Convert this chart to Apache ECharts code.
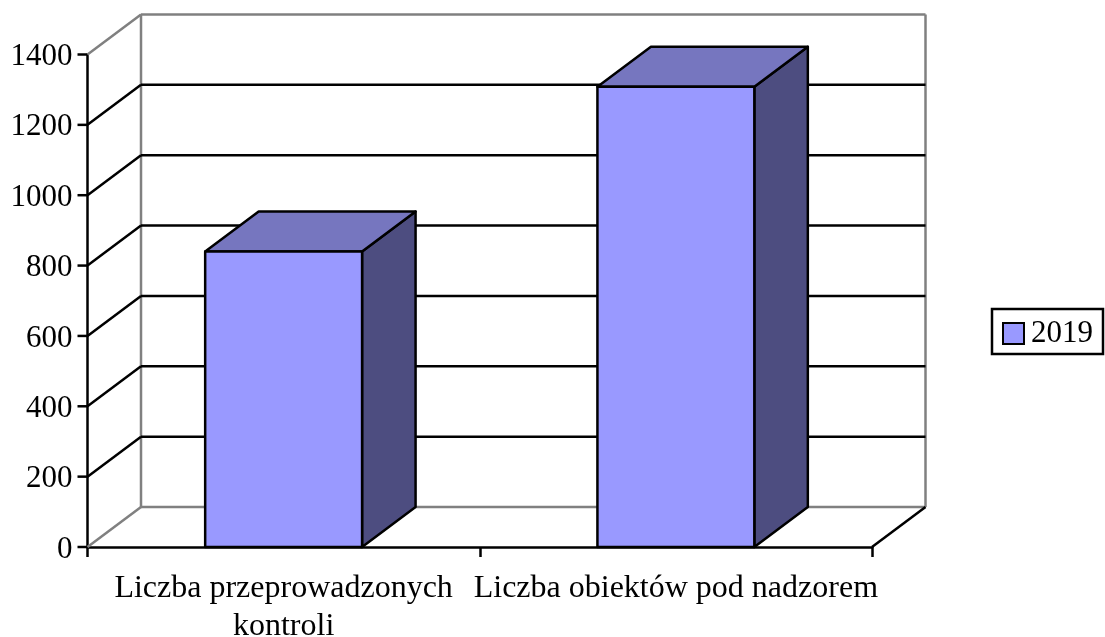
<!DOCTYPE html>
<html>
<head>
<meta charset="utf-8">
<title>Kontrole 2019</title>
<script src="https://cdn.jsdelivr.net/npm/echarts@6/dist/echarts.min.js"></script>
<style>
html, body { margin: 0; padding: 0; background: #fff; }
#main { width: 1105px; height: 637px; }
</style>
</head>
<body>
<div id="main"></div>
<script>
var categories = ['Liczba przeprowadzonych\nkontroli', 'Liczba obiektów pod nadzorem'];
var values2019 = [840, 1308];
var yTicks = [0, 200, 400, 600, 800, 1000, 1200, 1400];
var seriesName = '2019';

// przesuniecie "glebokosci" wykresu 3D
var DX = 53.5;
var DY = -40;
var GRAY = '#808080';
var LINE_W = 2.5;
var TICK_LEN = 10;
var FONT = '"Liberation Serif", "Times New Roman", serif';

function line(x1, y1, x2, y2, color) {
    return {
        type: 'line',
        shape: { x1: x1, y1: y1, x2: x2, y2: y2 },
        style: { stroke: color, lineWidth: LINE_W, fill: null }
    };
}

// sciany, linie siatki i znaczniki osi Y
function renderWall(params, api) {
    var rect = params.coordSys;
    var left = rect.x;
    var right = rect.x + rect.width;
    var value = api.value(1);
    var y = api.coord([0, value])[1];
    var first = value === yTicks[0];
    var last = value === yTicks[yTicks.length - 1];
    var color = first || last ? GRAY : '#000';
    var children = [
        line(left - TICK_LEN, y, left, y, '#000'),
        line(left, y, left + DX, y + DY, color),
        line(left + DX, y + DY, right + DX, y + DY, color)
    ];
    if (first) {
        var top = api.coord([0, yTicks[yTicks.length - 1]])[1];
        children.push(line(left + DX, y + DY, left + DX, top + DY, GRAY));
        children.push(line(right + DX, y + DY, right + DX, top + DY, GRAY));
        children.push(line(right, y, right + DX, y + DY, '#000'));
    }
    return { type: 'group', children: children };
}

function poly(points, fill) {
    return {
        type: 'polygon',
        shape: { points: points },
        style: { fill: fill, stroke: '#000', lineWidth: LINE_W, lineJoin: 'round' }
    };
}

// slupek: przod, gora i bok
function renderBar(params, api) {
    var top = api.coord([api.value(0), api.value(1)]);
    var base = api.coord([api.value(0), 0]);
    var w = api.size([1, 0])[0] * 0.4;
    var x1 = top[0] - w / 2;
    var x2 = top[0] + w / 2;
    var y1 = top[1];
    var y2 = base[1];
    return {
        type: 'group',
        children: [
            poly([[x2, y1], [x2 + DX, y1 + DY], [x2 + DX, y2 + DY], [x2, y2]], '#4d4d80'),
            poly([[x1, y1], [x1 + DX, y1 + DY], [x2 + DX, y1 + DY], [x2, y1]], '#7676bf'),
            poly([[x1, y1], [x2, y1], [x2, y2], [x1, y2]], '#9999ff')
        ]
    };
}

var myChart = echarts.init(document.getElementById('main'));
var option = {
    animation: false,
    backgroundColor: '#fff',
    textStyle: { fontFamily: FONT },
    grid: { left: 87.5, right: 233, top: 54.5, bottom: 90, outerBoundsMode: 'none' },
    legend: {
        data: [seriesName],
        left: 992,
        top: 309,
        icon: 'rect',
        itemWidth: 21,
        itemHeight: 21,
        itemGap: 0,
        padding: [9, 10, 5, 10],
        borderColor: '#000',
        borderWidth: 2.5,
        textStyle: { fontFamily: FONT, fontSize: 31, color: '#000', padding: [4, 0, 0, 2] }
    },
    xAxis: {
        type: 'category',
        data: categories,
        axisLine: { lineStyle: { color: '#000', width: LINE_W } },
        axisTick: { show: true, interval: 0, length: TICK_LEN, lineStyle: { color: '#000', width: LINE_W } },
        axisLabel: { color: '#000', fontFamily: FONT, fontSize: 32, margin: 23, lineHeight: 38, interval: 0, hideOverlap: false }
    },
    yAxis: {
        type: 'value',
        min: 0,
        max: 1400,
        interval: 200,
        splitLine: { show: false },
        axisLine: { show: true, lineStyle: { color: '#000', width: LINE_W } },
        axisTick: { show: false },
        axisLabel: {
            margin: 15,
            formatter: function (v) { return '{num|' + v + '}'; },
            rich: {
                num: { color: '#000', fontFamily: FONT, fontSize: 31, padding: [5, 0, 0, 0] }
            }
        }
    },
    series: [{
        type: 'custom',
        name: 'wall',
        clip: false,
        silent: true,
        z: 1,
        renderItem: renderWall,
        data: yTicks.map(function (v) { return [0, v]; })
    }, {
        type: 'custom',
        name: seriesName,
        clip: false,
        z: 2,
        itemStyle: { color: '#9999ff', borderColor: '#000', borderWidth: 2.5 },
        renderItem: renderBar,
        data: values2019.map(function (v, i) { return [i, v]; })
    }]
};
myChart.setOption(option);
</script>
</body>
</html>
